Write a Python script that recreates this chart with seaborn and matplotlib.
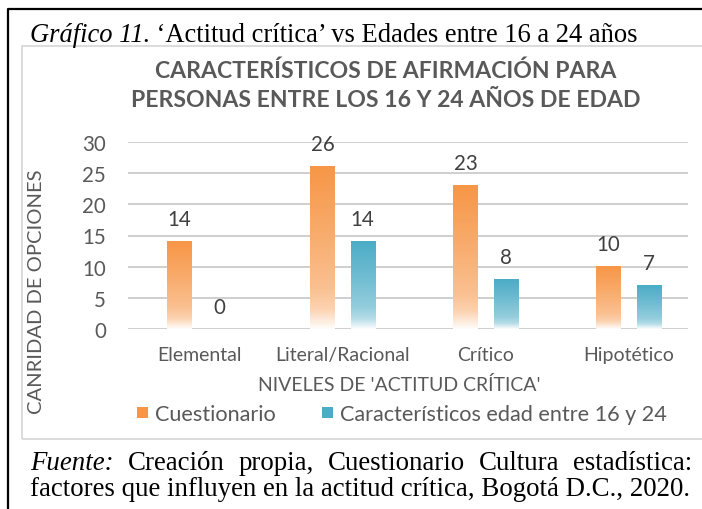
import numpy as np
import pandas as pd
import matplotlib
matplotlib.use("Agg")
import matplotlib.pyplot as plt
import seaborn as sns
from matplotlib.patches import Rectangle
from matplotlib.lines import Line2D
from matplotlib.colors import to_rgb

# ---------------- data ----------------
categories = ["Elemental", "Literal/Racional", "Crítico", "Hipotético"]
series_names = ["Cuestionario", "Característicos edad entre 16 y 24"]
cuestionario = [14, 26, 23, 10]
edad_16_24 = [0, 14, 8, 7]
yticks = [0, 5, 10, 15, 20, 25, 30]

chart_title = ["CARACTERÍSTICOS DE AFIRMACIÓN PARA",
               "PERSONAS ENTRE LOS 16 Y 24 AÑOS DE EDAD"]
x_title = "NIVELES DE 'ACTITUD CRÍTICA'"
y_title = "CANRIDAD DE OPCIONES"
caption_it = "Gráfico 11."
caption_rest = " \u2018Actitud crítica\u2019 vs Edades entre 16 a 24 años"
fuente_words = ["Fuente:", "Creación", "propia,", "Cuestionario", "Cultura", "estadística:"]
fuente_line2 = "factores que influyen en la actitud crítica, Bogotá D.C., 2020."

palette = {series_names[0]: "#F79646", series_names[1]: "#4BACC6"}

# ---------------- setup ----------------
W, H = 702, 510
sns.set_theme(style="white")
SANS = ["Lato", "DejaVu Sans"]
SERIF = ["Liberation Serif", "DejaVu Serif"]
plt.rcParams["font.family"] = SANS

fig = plt.figure(figsize=(W / 100, H / 100), dpi=100)
fig.patch.set_facecolor("white")
renderer = fig.canvas.get_renderer()


def fx(x):
    return x / W


def fy(y):
    return 1 - y / H


def size_for(s, target, vertical=False, **kw):
    t = fig.text(0, 0, s, fontsize=10, **kw)
    bb = t.get_window_extent(renderer)
    t.remove()
    return 10 * target / (bb.height if vertical else bb.width)


TXT = "#595959"

# ---------------- plot ----------------
df = pd.DataFrame({
    "Nivel": categories * 2,
    "Serie": [series_names[0]] * len(categories) + [series_names[1]] * len(categories),
    "Valor": cuestionario + edad_16_24,
})

ax = fig.add_axes([fx(128), fy(330), fx(688) - fx(128), fy(143) - fy(330)])
sns.barplot(data=df, x="Nivel", y="Valor", hue="Serie", order=categories,
            hue_order=series_names, palette=palette, width=0.56, ax=ax,
            legend=False, errorbar=None, saturation=1)

BW = 0.168
t = np.linspace(0, 1, 256)
frac = np.interp(t, [0, 0.12, 0.25, 0.6, 1.0], [0.02, 0.42, 0.6, 0.8, 1.0])
for cont, name in zip(ax.containers, series_names):
    c = np.array(to_rgb(palette[name]))
    grad = (1 - frac)[:, None] * np.ones(3) + frac[:, None] * c
    img = grad[:, None, :]
    for bar in cont:
        cx = bar.get_x() + bar.get_width() / 2
        bar.set_x(cx - BW / 2)
        bar.set_width(BW)
        h = bar.get_height()
        bar.set_facecolor("none")
        bar.set_edgecolor("none")
        if h > 0:
            ax.imshow(img, extent=[cx - BW / 2, cx + BW / 2, 0, h], origin="lower",
                      aspect="auto", zorder=2, interpolation="bilinear")

ax.set_xlim(-0.5, 3.416)
ax.set_ylim(0, 30)
ax.set_yticks(yticks)
ax.yaxis.grid(True, color="#CFCFCF", lw=1.4)
ax.xaxis.grid(False)
ax.set_axisbelow(True)
for sp in ax.spines.values():
    sp.set_visible(False)
ax.set_xlabel("")
ax.set_ylabel("")

fs_ytick = size_for("25", 24)
fs_xtick = size_for("Literal/Racional", 134)
fs_data = size_for("26", 24)
ax.tick_params(axis="y", length=0, pad=16, labelsize=fs_ytick, labelcolor=TXT)
ax.tick_params(axis="x", length=0, pad=12, labelsize=fs_xtick, labelcolor=TXT)

for cont in ax.containers:
    ax.bar_label(cont, padding=9, fontsize=fs_data, color="#404040")

# ---------------- titles & legend ----------------
fs_title = size_for(chart_title[1], 507, weight="bold")
fig.text(fx(386), fy(78), chart_title[0], ha="center", va="baseline",
         fontsize=fs_title, weight="bold", color=TXT)
fig.text(fx(386), fy(107), chart_title[1], ha="center", va="baseline",
         fontsize=fs_title, weight="bold", color=TXT)

fs_xl = size_for(x_title, 282)
fig.text(fx(399), fy(391), x_title, ha="center", va="baseline", fontsize=fs_xl, color=TXT)
fs_yl = size_for(y_title, 242)
fig.text(fx(37), fy(292), y_title, ha="center", va="center", rotation=90,
         fontsize=fs_yl, color=TXT)

fs_leg = size_for(series_names[1], 328)
for name, sq_x, tx in [(series_names[0], 137, 155), (series_names[1], 322, 340)]:
    fig.patches.append(Rectangle((fx(sq_x), fy(419)), 11 / W, 11 / H,
                                 transform=fig.transFigure, facecolor=palette[name],
                                 edgecolor="none"))
    fig.text(fx(tx), fy(421), name, ha="left", va="baseline", fontsize=fs_leg, color=TXT)

# chart box
fig.patches.append(Rectangle((fx(22), fy(440)), (720 - 22) / W, (440 - 47) / H,
                             transform=fig.transFigure, facecolor="none",
                             edgecolor="#D9D9D9", lw=1.3))

# document frame
fig.add_artist(Line2D([fx(8), fx(8), fx(710)], [fy(515), fy(10), fy(10)],
                      transform=fig.transFigure, color="black", lw=1.6))

# ---------------- document text ----------------
def width_of(s, **kw):
    tt = fig.text(0, 0, s, fontsize=10, **kw)
    w = tt.get_window_extent(renderer).width
    tt.remove()
    return w


fs_cap = 10 * 610 / (width_of(caption_it, family=SERIF, style="italic")
                     + width_of(caption_rest, family=SERIF))
t1 = fig.text(fx(30), fy(42), caption_it, fontsize=fs_cap, family=SERIF, style="italic",
              ha="left", va="baseline", color="black")
w1 = t1.get_window_extent(renderer).width
fig.text(fx(30 + w1), fy(42), caption_rest, fontsize=fs_cap, family=SERIF,
         ha="left", va="baseline", color="black")

fs_f = size_for(fuente_line2, 662, family=SERIF)
fig.text(fx(30), fy(496), fuente_line2, fontsize=fs_f, family=SERIF,
         ha="left", va="baseline", color="black")
widths = []
for i, wd in enumerate(fuente_words):
    tt = fig.text(0, 0, wd, fontsize=fs_f, family=SERIF,
                  style="italic" if i == 0 else "normal")
    widths.append(tt.get_window_extent(renderer).width)
    tt.remove()
gap = (662 - sum(widths)) / (len(fuente_words) - 1)
xpos = 30
for i, wd in enumerate(fuente_words):
    fig.text(fx(xpos), fy(470), wd, fontsize=fs_f, family=SERIF,
             style="italic" if i == 0 else "normal", ha="left", va="baseline",
             color="black")
    xpos += widths[i] + gap

fig.savefig("out.png", dpi=100)
